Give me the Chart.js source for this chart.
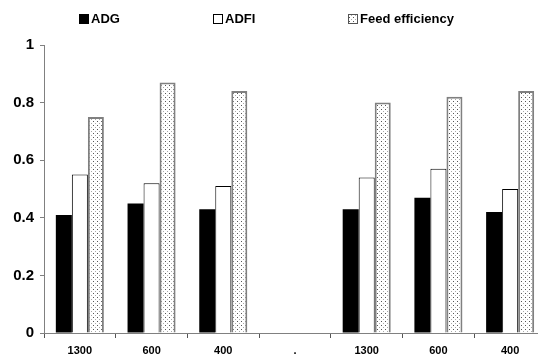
<!DOCTYPE html>
<html>
<head>
<meta charset="utf-8">
<script src="https://cdn.jsdelivr.net/npm/chart.js@4/dist/chart.umd.min.js"></script>
<style>
  html, body { margin: 0; padding: 0; background: #fff; overflow: hidden; }
  #wrap { width: 548px; height: 356px; }
</style>
</head>
<body>
<div id="wrap"><canvas id="c" width="548" height="356"></canvas></div>
<script>
// ---- data ----
const categories = ['1300', '600', '400', '.', '1300', '600', '400'];
const seriesNames = ['ADG', 'ADFI', 'Feed efficiency'];
const adgValues = [0.41, 0.45, 0.43, null, 0.43, 0.47, 0.42];
const adfiValues = [0.55, 0.52, 0.51, null, 0.54, 0.57, 0.50];
const feValues = [0.75, 0.87, 0.84, null, 0.80, 0.82, 0.84];
const yTicks = [0, 0.2, 0.4, 0.6, 0.8, 1];
const yTickLabels = ['0', '0.2', '0.4', '0.6', '0.8', '1'];

// ---- styles ----
const FONT = '"Liberation Sans", Arial, sans-serif';

function dotPattern() {
  const t = document.createElement('canvas');
  t.width = 4; t.height = 4;
  const g = t.getContext('2d');
  g.fillStyle = '#ffffff'; g.fillRect(0, 0, 4, 4);
  g.fillStyle = '#555555'; g.fillRect(1, 1, 1, 1);
  g.fillStyle = '#aaaaaa'; g.fillRect(3, 3, 1, 1);
  return g.createPattern(t, 'repeat');
}
const fePattern = dotPattern();

// legend layout (box left positions)
const legendBoxX = [79, 213, 348];
const legendBoxY = 14;

const customLegend = {
  id: 'customLegend',
  afterDraw(chart) {
    const ctx = chart.ctx;
    ctx.save();
    chart.data.datasets.forEach((ds, i) => {
      const x = legendBoxX[i];
      ctx.fillStyle = ds.backgroundColor;
      ctx.fillRect(x, legendBoxY, 10, 10);
      ctx.strokeStyle = i === 2 ? '#555' : '#000';
      ctx.lineWidth = 1;
      ctx.strokeRect(x + 0.5, legendBoxY + 0.5, 9, 9);
      ctx.fillStyle = '#000';
      ctx.font = 'bold 13px ' + FONT;
      ctx.textBaseline = 'middle';
      ctx.textAlign = 'left';
      ctx.fillText(ds.label, x + 12, legendBoxY + 5.5);
    });
    ctx.restore();
  }
};

new Chart(document.getElementById('c'), {
  type: 'bar',
  data: {
    labels: categories,
    datasets: [
      { label: seriesNames[0], data: adgValues, backgroundColor: '#000000', borderWidth: 0 },
      { label: seriesNames[1], data: adfiValues, backgroundColor: '#ffffff', borderColor: '#000000', borderWidth: 1, borderSkipped: 'bottom' },
      { label: seriesNames[2], data: feValues, backgroundColor: fePattern, borderColor: '#808080', borderWidth: 2, borderSkipped: 'bottom' }
    ]
  },
  options: {
    responsive: false,
    animation: false,
    devicePixelRatio: 1,
    layout: { padding: { top: 45, right: 2, left: 0, bottom: 0 } },
    plugins: {
      legend: { display: false },
      tooltip: { enabled: false }
    },
    datasets: { bar: { categoryPercentage: 0.67, barPercentage: 1.0 } },
    scales: {
      x: {
        offset: true,
        grid: { display: true, drawOnChartArea: false, offset: true, tickLength: 5, color: '#555555' },
        border: { display: true, color: '#808080', width: 1 },
        ticks: { color: '#000', font: { family: FONT, size: 11, weight: 'bold' }, padding: 6, maxRotation: 0, autoSkip: false },
        afterFit(s) { s.height = 23; }
      },
      y: {
        min: 0, max: 1,
        afterBuildTicks(s) { s.ticks = yTicks.map(v => ({ value: v })); },
        grid: { display: true, drawOnChartArea: false, tickLength: 4, color: '#808080' },
        border: { display: true, color: '#808080', width: 1 },
        ticks: {
          color: '#000', font: { family: FONT, size: 15, weight: 'bold' }, padding: 6,
          callback: (v) => { const i = yTicks.indexOf(v); return i >= 0 ? yTickLabels[i] : ''; }
        },
        afterFit(s) { s.width = 44; }
      }
    }
  },
  plugins: [customLegend]
});
</script>
</body>
</html>
